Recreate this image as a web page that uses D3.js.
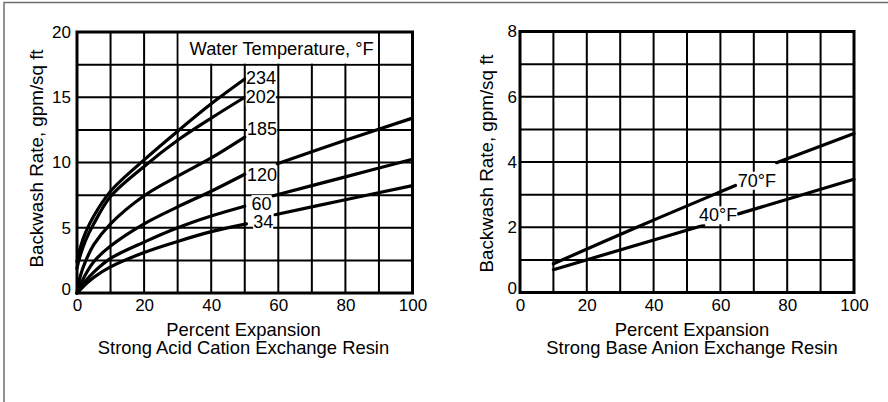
<!DOCTYPE html>
<html>
<head>
<meta charset="utf-8">
<script src="https://cdn.jsdelivr.net/npm/d3@7"></script>
<style>
  body { margin: 0; background: #fff; }
  text { font-family: "Liberation Sans", Arial, sans-serif; fill: #000; }
</style>
</head>
<body>
<svg id="chart" width="888" height="402"></svg>
<script>
// ---- data ----
// left: strong acid cation resin, backwash rate vs % expansion, by water temp (F)
const cationTemps = ["234", "202", "185", "120", "60", "34"];
const cation234 = [[[0, 2.4], [1, 3.5], [2.5, 4.6], [5, 5.9], [10, 7.8], [20, 10.2], [30, 12.4], [40, 14.5], [50, 16.4]]];
const cation202 = [[[0, 1.9], [1, 2.9], [2.5, 4.0], [5, 5.3], [10, 7.4], [20, 9.7], [30, 11.7], [40, 13.4], [50, 15.0]]];
const cation185 = [[[0, 0], [1, 1.3], [2.5, 2.4], [5, 3.7], [10, 5.3], [20, 7.45], [30, 8.95], [40, 10.35], [50, 11.95]]];
const cation120 = [[[0, 0], [2.5, 1.4], [5, 2.4], [10, 3.6], [20, 5.3], [30, 6.6], [40, 7.8], [50, 9.1]],
                   [[59.7, 9.9], [80, 11.7], [100, 13.4]]];
const cation60 = [[[0, 0], [2.5, 0.9], [5, 1.6], [10, 2.65], [20, 3.9], [30, 5.0], [40, 5.9], [50, 6.65]],
                  [[58.5, 7.45], [80, 8.9], [100, 10.25]]];
const cation34 = [[[0, 0], [2.5, 0.65], [5, 1.2], [10, 2.0], [20, 3.1], [30, 3.95], [40, 4.7], [50.5, 5.3]],
                  [[59, 6.0], [80, 7.15], [100, 8.23]]];
// label anchor (x, y) in data units
const cationLabelPos = [[50.4, 16.5], [50.3, 15.05], [50.7, 12.6], [50.7, 9.08], [52, 6.85], [52.5, 5.48]];

// right: strong base anion resin
const anionTemps = ["70°F", "40°F"];
const anion70 = [[[10, 0.88], [35, 2.0], [58, 3.0], [64.5, 3.28]],
                 [[76.8, 3.98], [100, 4.87]]];
const anion40 = [[[10, 0.7], [55, 2.06]],
                 [[65.4, 2.41], [100, 3.47]]];
const anionLabelPos = [[70.9, 3.44], [59.3, 2.38]];

// ticks
const xTicks = [0, 20, 40, 60, 80, 100];
const cationYTicks = [0, 5, 10, 15, 20];
const anionYTicks = [0, 2, 4, 6, 8];

const svg = d3.select("#chart");

// outer frame (only top and left edges show)
svg.append("path")
  .attr("d", "M4,402V2.5H888")
  .attr("fill", "none")
  .attr("stroke", "#6e6e6e")
  .attr("stroke-width", 1.5);

const panels = [
  {
    x: d3.scaleLinear().domain([0, 100]).range([77, 412.5]),
    y: d3.scaleLinear().domain([0, 20]).range([293, 32]),
    yGrid: d3.range(0, 20.01, 2.5),
    yTicks: cationYTicks,
    yPad: 6,
    series: [cation234, cation202, cation185, cation120, cation60, cation34],
    names: cationTemps,
    labelPos: cationLabelPos,
    labelAnchor: "start",
    titleX: 243.5,
    yTitleX: 43,
    yTitleY: 158.5,
    sub: "Strong Acid Cation Exchange Resin"
  },
  {
    x: d3.scaleLinear().domain([0, 100]).range([520, 854]),
    y: d3.scaleLinear().domain([0, 8]).range([292.5, 31.5]),
    yGrid: d3.range(0, 8.01, 1),
    yTicks: anionYTicks,
    yPad: 3,
    series: [anion70, anion40],
    names: anionTemps,
    labelPos: anionLabelPos,
    labelAnchor: "middle",
    titleX: 692,
    yTitleX: 493,
    yTitleY: 163.5,
    sub: "Strong Base Anion Exchange Resin"
  }
];

panels.forEach(function (p, pi) {
  const g = svg.append("g");
  const x = p.x, y = p.y;
  const x0 = x.range()[0], x1 = x.range()[1];
  const yb = y.range()[0], yt = y.range()[1];

  // grid
  g.append("g").selectAll("line")
    .data(d3.range(10, 100, 10))
    .enter().append("line")
    .attr("x1", d => x(d)).attr("x2", d => x(d))
    .attr("y1", yb).attr("y2", yt)
    .attr("stroke", "#000").attr("stroke-width", 2);
  g.append("g").selectAll("line")
    .data(p.yGrid.slice(1, -1))
    .enter().append("line")
    .attr("x1", x0).attr("x2", x1)
    .attr("y1", d => y(d)).attr("y2", d => y(d))
    .attr("stroke", "#000").attr("stroke-width", 2);

  // legend box on the cation chart
  if (pi === 0) {
    g.append("rect")
      .attr("x", x(30) + 1).attr("y", yt)
      .attr("width", x(90) - x(30) - 2).attr("height", y(17.5) - yt - 1)
      .attr("fill", "#fff");
    g.append("text")
      .attr("x", x(61)).attr("y", 55)
      .attr("text-anchor", "middle")
      .style("font-size", "18.3px")
      .text("Water Temperature, °F");
  }

  // frame
  g.append("rect")
    .attr("x", x0).attr("y", yt)
    .attr("width", x1 - x0).attr("height", yb - yt)
    .attr("fill", "none").attr("stroke", "#000").attr("stroke-width", 3);

  // curves
  const line = d3.line()
    .x(d => x(d[0])).y(d => y(d[1]))
    .curve(d3.curveCatmullRom.alpha(0.5));
  p.series.forEach(function (segs) {
    segs.forEach(function (seg) {
      g.append("path")
        .attr("d", line(seg))
        .attr("fill", "none")
        .attr("stroke", "#000")
        .attr("stroke-width", 3.2)
        .attr("stroke-linecap", "round");
    });
  });

  // curve labels with white backing
  p.names.forEach(function (name, i) {
    const lg = g.append("g");
    const t = lg.append("text")
      .attr("x", x(p.labelPos[i][0]))
      .attr("y", y(p.labelPos[i][1]))
      .attr("dy", "0.36em")
      .attr("text-anchor", p.labelAnchor)
      .style("font-size", "18px")
      .text(name);
    const bb = t.node().getBBox();
    lg.insert("rect", "text")
      .attr("x", bb.x).attr("y", bb.y + 1)
      .attr("width", bb.width).attr("height", bb.height - 2)
      .attr("fill", "#fff");
  });

  // axes (labels only)
  const xa = g.append("g")
    .attr("transform", `translate(0,${yb})`)
    .call(d3.axisBottom(x).tickValues(xTicks).tickSize(0).tickPadding(6));
  xa.select(".domain").remove();
  xa.selectAll("text").style("font-size", "17px").attr("fill", "#000");

  const ya = g.append("g")
    .attr("transform", `translate(${x0},0)`)
    .call(d3.axisLeft(y).tickValues(p.yTicks).tickSize(0).tickPadding(p.yPad));
  ya.select(".domain").remove();
  ya.selectAll("text").style("font-size", "17px").attr("fill", "#000");
  ya.selectAll(".tick").filter(d => d === 0).select("text")
    .attr("transform", "translate(0,-4)");

  // titles
  g.append("text")
    .attr("transform", `translate(${p.yTitleX},${p.yTitleY}) rotate(-90)`)
    .attr("text-anchor", "middle")
    .style("font-size", "18.8px")
    .text("Backwash Rate, gpm/sq ft");
  const xt = g.append("text")
    .attr("x", p.titleX).attr("y", 336)
    .attr("text-anchor", "middle")
    .style("font-size", "18.4px");
  xt.append("tspan").attr("x", p.titleX).attr("y", 336).text("Percent Expansion");
  xt.append("tspan").attr("x", p.titleX).attr("y", 354).text(p.sub);
});
</script>
</body>
</html>
